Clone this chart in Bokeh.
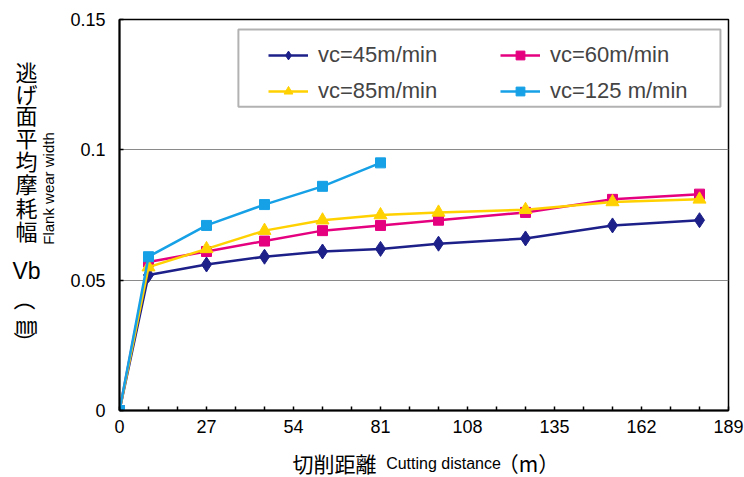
from bokeh.plotting import figure
from bokeh.layouts import row, column
from bokeh.models import (Range1d, FixedTicker, Legend, LegendItem,
                          BoxAnnotation, ColumnDataSource)
from bokeh.core.properties import value
from bokeh.embed import file_html
from bokeh.resources import INLINE

# ---- data ----
distance = [0, 9, 27, 45, 63, 81, 99, 126, 153, 180]
vb_45 = [0, 0.052, 0.056, 0.059, 0.061, 0.062, 0.064, 0.066, 0.071, 0.073]
vb_60 = [0, 0.057, 0.061, 0.065, 0.069, 0.071, 0.073, 0.076, 0.081, 0.083]
vb_85 = [0, 0.055, 0.062, 0.069, 0.073, 0.075, 0.076, 0.077, 0.080, 0.081]
distance_125 = [0, 9, 27, 45, 63, 81]
vb_125 = [0, 0.059, 0.071, 0.079, 0.086, 0.095]

x_ticks = [0, 27, 54, 81, 108, 135, 162, 189]
x_minor = [9, 18, 36, 45, 63, 72, 90, 99, 117, 126, 144, 153, 171, 180]
y_ticks = [0, 0.05, 0.1, 0.15]
y_tick_labels = ["0", "0.05", "0.1", "0.15"]
series_labels = ["vc=45m/min", "vc=60m/min", "vc=85m/min", "vc=125 m/min"]

LATIN = "Liberation Sans"
CJK = "Noto Sans CJK JP"

# ---- main chart ----
p = figure(width=684, height=442, output_backend="svg", toolbar_location=None,
           x_range=Range1d(0, 189), y_range=Range1d(0, 0.15),
           min_border_left=59, min_border_right=16, min_border_top=19,
           min_border_bottom=32)
p.outline_line_color = "black"
p.outline_line_width = 1.5

p.xgrid.visible = False
p.ygrid.grid_line_color = "#8a8a8a"
p.ygrid.grid_line_width = 1.2
p.ygrid.ticker = FixedTicker(ticks=[0.05, 0.1])

p.xaxis.ticker = FixedTicker(ticks=x_ticks, minor_ticks=x_minor)
p.yaxis.ticker = FixedTicker(ticks=y_ticks)
p.yaxis.major_label_overrides = {t: l for t, l in zip(y_ticks, y_tick_labels)}
for ax in (p.xaxis[0], p.yaxis[0]):
    ax.axis_line_color = "black"
    ax.axis_line_width = 2
    ax.major_tick_line_color = "black"
    ax.major_tick_line_width = 1.5
    ax.minor_tick_line_color = "black"
    ax.minor_tick_line_width = 1.5
    ax.major_tick_in = 4
    ax.major_tick_out = 0
    ax.minor_tick_in = 4
    ax.minor_tick_out = 0
    ax.major_label_text_font = LATIN
    ax.major_label_text_font_size = "18px"
    ax.major_label_text_color = "black"
p.xaxis.major_label_standoff = 9
p.yaxis.major_label_standoff = 14

colors = ["#1d2088", "#e4007f", "#ffd100", "#16a0e6"]
xs = [distance, distance, distance, distance_125]
ys = [vb_45, vb_60, vb_85, vb_125]
markers = ["diamond", "square", "triangle", "square"]
sizes = [15, 10, 13, 10]

items = []
for i in range(4):
    src = ColumnDataSource(dict(x=xs[i], y=ys[i]))
    r1 = p.line("x", "y", source=src, line_color=colors[i], line_width=2.5)
    r2 = p.scatter("x", "y", source=src, marker=markers[i], size=sizes[i],
                   fill_color=colors[i], line_color=colors[i])
    items.append(LegendItem(label=series_labels[i], renderers=[r1, r2]))

legend = Legend(items=items, orientation="horizontal", ncols=2,
                location=(149, 306), glyph_width=40, glyph_height=22,
                label_height=22, label_width=172, label_standoff=10,
                spacing=10, padding=0, margin=0,
                label_text_font=LATIN, label_text_font_size="22px",
                border_line_alpha=0, background_fill_alpha=0)
p.add_layout(legend)

# legend frame
box = BoxAnnotation(left=36.9, right=186.5, bottom=0.1165, top=0.1462,
                    fill_color="white", fill_alpha=1.0,
                    line_color="black", line_width=2, level="underlay")
p.add_layout(box)


def text_panel(w, h, xr, yr):
    f = figure(width=w, height=h, output_backend="svg", toolbar_location=None,
               x_range=Range1d(*xr), y_range=Range1d(*yr),
               x_axis_type=None, y_axis_type=None, min_border=0)
    f.outline_line_color = None
    return f


# ---- y axis title panel (page coordinates) ----
left = text_panel(60, 477, (0, 60), (477, 0))
y_chars = ["逃", "げ", "面", "平", "均", "摩", "耗", "幅", "㎜"]
y_pos = [70, 92, 113, 136, 159, 182, 206, 229, 322]
left.text(x=[26] * len(y_chars), y=y_pos, text=y_chars,
          text_font=value(CJK), text_font_size=value("22px"),
          text_align="center", text_baseline="middle", text_color="black")
left.text(x=[26, 26], y=[299, 342], text=["（", "）"],
          text_font=value(CJK), text_font_size=value("22px"),
          text_align="center", text_baseline="middle", angle=-1.5707963,
          text_color="black")
left.text(x=[26], y=[270], text=["Vb"], text_font=value(LATIN),
          text_font_size=value("23px"), text_align="center",
          text_baseline="middle", text_color="black")
left.text(x=[48], y=[188], text=["Flank wear width"], text_font=value(LATIN),
          text_font_size=value("15px"), text_align="center",
          text_baseline="middle", angle=1.5707963, text_color="black")

# ---- x axis title panel (frame aligned with main frame: page x 119..728) ----
bottom = text_panel(684, 35, (119, 728), (477, 442))
bottom.text(x=[334, 528], y=[462, 462], text=["切削距離", "（m）"],
            text_font=value(CJK), text_font_size=value("21px"),
            text_align="center", text_baseline="middle", text_color="black")
bottom.text(x=[443], y=[463], text=["Cutting distance"], text_font=value(LATIN),
            text_font_size=value("16px"), text_align="center",
            text_baseline="middle", text_color="black")

layout = row(left, column(p, bottom))
open("out.html", "w").write(file_html(layout, INLINE))
